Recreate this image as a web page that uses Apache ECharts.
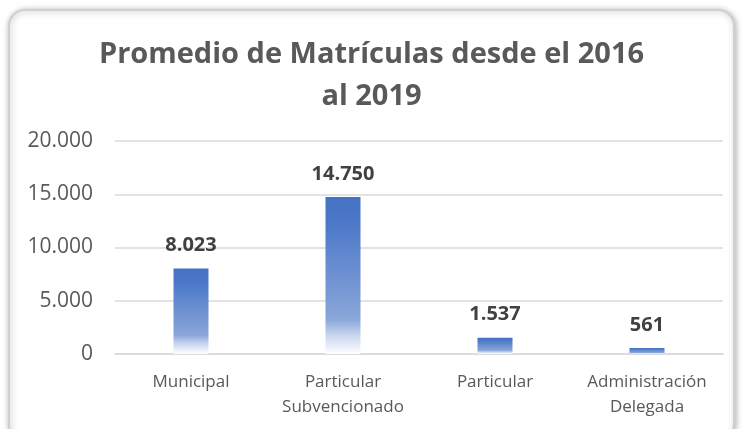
<!DOCTYPE html>
<html>
<head>
<meta charset="utf-8">
<script src="https://cdn.jsdelivr.net/npm/echarts@6/dist/echarts.min.js"></script>
<style>
  html, body { margin: 0; padding: 0; background: #fff; }
  #chart { width: 743px; height: 429px; }
</style>
</head>
<body>
<div id="chart"></div>
<script>
const categories = ['Municipal', 'Particular\nSubvencionado', 'Particular', 'Administración\nDelegada'];
const values = [8023, 14750, 1537, 561];
const yTicks = [0, 5000, 10000, 15000, 20000];

const txt = '#595959';
const font = '"Open Sans", "Noto Sans", sans-serif';

function fmt(v) {
  return String(v).replace(/\B(?=(\d{3})+(?!\d))/g, '.');
}

var chart = echarts.init(document.getElementById('chart'));
var option = {
  animation: false,
  graphic: [{
    type: 'rect',
    z: -10,
    shape: { x: 9, y: 10, width: 725, height: 430, r: 16 },
    style: {
      fill: '#fff',
      stroke: '#cfcfcf',
      lineWidth: 2,
      shadowBlur: 6,
      shadowColor: 'rgba(0,0,0,0.3)',
      shadowOffsetX: 1,
      shadowOffsetY: 1
    }
  }],
  title: {
    text: 'Promedio de Matrículas desde el 2016\nal 2019',
    left: 'center',
    top: 29,
    textStyle: {
      fontFamily: font,
      fontSize: 29,
      fontWeight: 'bold',
      color: txt,
      lineHeight: 42
    }
  },
  grid: { left: 115, right: 20, top: 141, bottom: 75 },
  xAxis: {
    type: 'category',
    data: categories,
    axisLine: { show: true, lineStyle: { color: '#d9d9d9', width: 1.5 } },
    axisTick: { show: false },
    axisLabel: {
      interval: 0,
      hideOverlap: false,
      color: txt,
      fontFamily: font,
      fontSize: 17,
      lineHeight: 25,
      margin: 16
    }
  },
  yAxis: {
    type: 'value',
    min: yTicks[0],
    max: yTicks[yTicks.length - 1],
    interval: 5000,
    axisLine: { show: false },
    axisTick: { show: false },
    splitLine: { lineStyle: { color: '#d9d9d9', width: 1.5 } },
    axisLabel: {
      color: txt,
      fontFamily: font,
      fontSize: 21,
      margin: 22,
      formatter: fmt
    }
  },
  series: [{
    type: 'bar',
    data: values,
    barWidth: 35,
    itemStyle: {
      color: new echarts.graphic.LinearGradient(0, 0, 0, 1, [
        { offset: 0, color: '#4472C4' },
        { offset: 0.15, color: '#4a77c7' },
        { offset: 0.78, color: '#8aa6da' },
        { offset: 0.88, color: '#c8d5ee' },
        { offset: 1, color: '#ffffff' }
      ])
    },
    label: {
      show: true,
      position: 'top',
      distance: 13,
      color: '#404040',
      fontFamily: font,
      fontSize: 20,
      fontWeight: 'bold',
      formatter: function (p) { return fmt(p.value); }
    }
  }]
};
chart.setOption(option);
</script>
</body>
</html>
